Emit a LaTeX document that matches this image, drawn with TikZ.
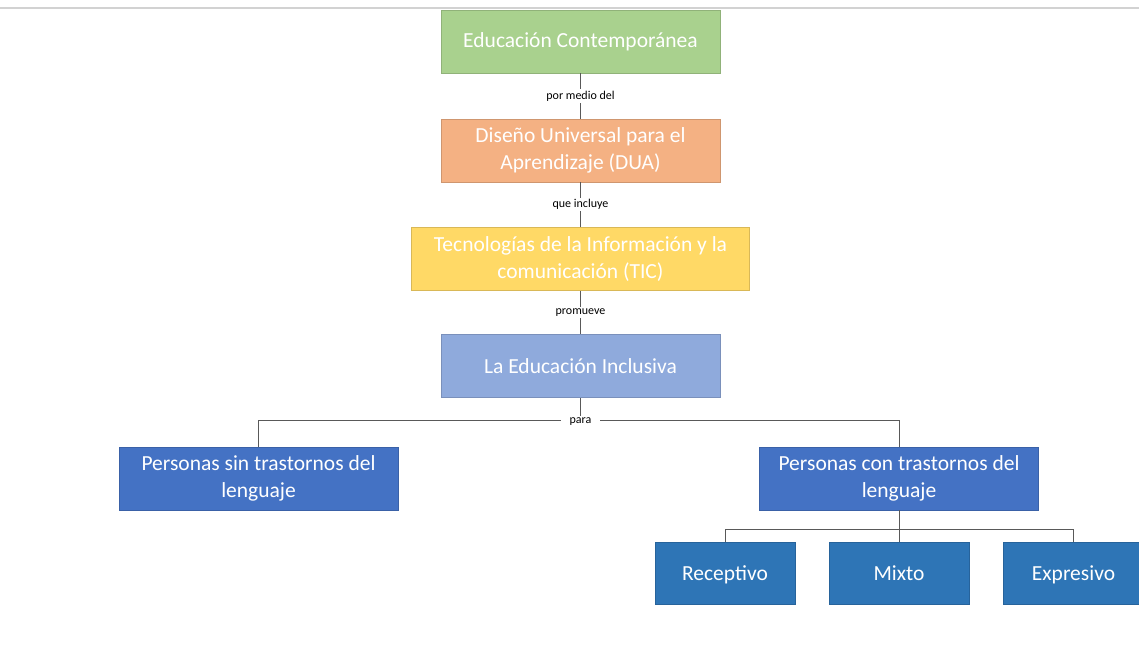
\documentclass[tikz,border=0pt]{standalone}
\usepackage{fontspec}
\setmainfont{Carlito}
\definecolor{verde}{HTML}{A9D18E}
\definecolor{naranja}{HTML}{F4B183}
\definecolor{amarillo}{HTML}{FFD966}
\definecolor{celeste}{HTML}{8FAADC}
\definecolor{azul}{HTML}{4472C4}
\definecolor{azulosc}{HTML}{2E75B6}
\definecolor{linea}{HTML}{595959}

\begin{document}
\begin{tikzpicture}[x=1pt,y=-1pt,line width=0.8pt]
\tikzstyle{caja}=[minimum width=279pt,minimum height=63pt,text=white,align=center,font=\fontsize{21.5}{27}\selectfont];
\tikzstyle{hijo}=[caja,minimum width=140pt,minimum height=62pt,text height=17pt,text depth=3pt,fill=azulosc,draw=azulosc!85!black];
\tikzstyle{con}=[draw=linea,line width=0.7pt];
\tikzstyle{etq}=[fill=white,inner sep=1.5pt,font=\fontsize{12}{14}\selectfont];

\useasboundingbox (0,0) rectangle (1139,654);
\draw [gray!35,line width=2pt] (0,8) -- (1139,8);

\node [caja,fill=verde,draw=verde!85!black] (edu) at (580.5,41.5) {Educación Contemporánea};
\node [caja,fill=naranja,draw=naranja!85!black] (dua) at (580.5,150.5) {Diseño Universal para el\\Aprendizaje (DUA)};
\node [caja,fill=amarillo,draw=amarillo!85!black,minimum width=338pt] (tic) at (580.5,259) {Tecnologías de la Información y la\\comunicación (TIC)};
\node [caja,fill=celeste,draw=celeste!85!black] (inc) at (580.5,366) {La Educación Inclusiva};
\node [caja,fill=azul,draw=azul!85!black] (sin) at (258.5,478.5) {Personas sin trastornos del\\lenguaje};
\node [caja,fill=azul,draw=azul!85!black] (ctl) at (899,478.5) {Personas con trastornos del\\lenguaje};
\node [hijo] (rec) at (725,573) {Receptivo};
\node [hijo] (mix) at (899,573) {Mixto};
\node [hijo] (exp) at (1073.5,573) {Expresivo};

\draw [con] (edu) -- node [etq] {por medio del} (dua);
\draw [con] (dua) -- node [etq] {que incluye} (tic);
\draw [con] (tic) -- node [etq] {promueve} (inc);

\coordinate (para) at (580.5,420);
\draw [con] (inc) -- (para);
\draw [con] (sin) |- (para) -| (ctl);
\node [etq,inner xsep=9pt,yshift=-1.5pt] (lpara) at (para) {para};

\coordinate (ramas) at (899,529);
\draw [con] (ctl) -- (mix);
\draw [con] (rec) |- (ramas) -| (exp);
\end{tikzpicture}
\end{document}
